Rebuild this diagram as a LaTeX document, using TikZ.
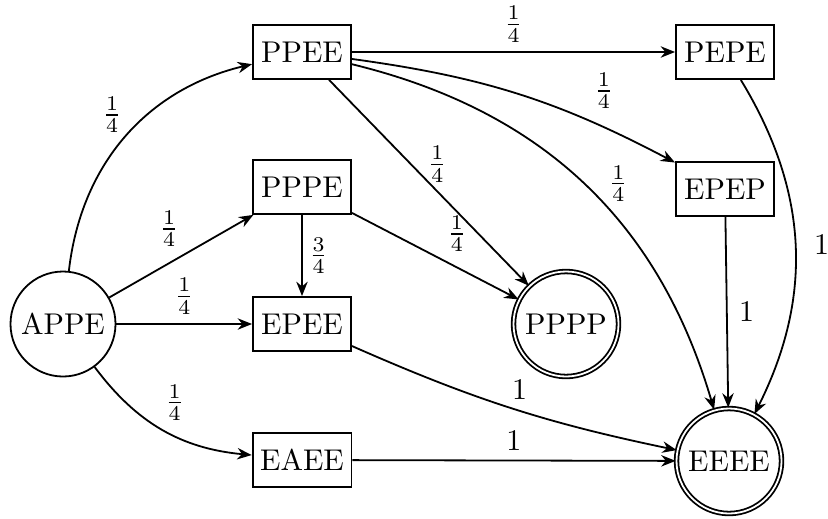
\documentclass[tikz,border=0pt]{standalone}
\usetikzlibrary{arrows.meta}
\begin{document}
\begin{tikzpicture}[x=0.33333pt,y=-0.33333pt,
  >={Stealth[length=4.8pt,width=3.8pt]},
  semithick,
  statebox/.style={draw, rectangle, minimum width=32.7pt, minimum height=18pt, inner xsep=2.5pt},
  statecirc/.style={draw, circle, minimum size=35pt, inner sep=1pt},
  acccirc/.style={statecirc, double},
  lbl/.style={auto, inner sep=3pt},
  lbld/.style={auto, inner sep=2pt}]
\useasboundingbox (0,0) rectangle (828,518);
\node[statecirc] (APPE) at (63,324) {APPE};
\node[statebox] (PPEE) at (302,52) {PPEE};
\node[statebox] (PPPE) at (302,187) {PPPE};
\node[statebox] (EPEE) at (302,324) {EPEE};
\node[statebox] (EAEE) at (302,460) {EAEE};
\node[statebox] (PEPE) at (725,52) {PEPE};
\node[statebox] (EPEP) at (725,189) {EPEP};
\node[acccirc] (PPPP) at (566,324) {PPPP};
\node[acccirc] (EEEE) at (729,461) {EEEE};

\draw[->] (APPE) to[bend left=35] node[auto, inner sep=1pt, pos=0.5] {$\frac{1}{4}$} (PPEE);
\draw[->] (APPE) -- node[lbld, pos=0.53] {$\frac{1}{4}$} (PPPE);
\draw[->] (APPE) -- node[lbl] {$\frac{1}{4}$} (EPEE);
\draw[->] (APPE) to[bend right=24] node[lbld, pos=0.47] {$\frac{1}{4}$} (EAEE);
\draw[->] (PPPE) -- node[lbld] {$\frac{3}{4}$} (EPEE);
\draw[->] (PPPE) -- node[lbld, pos=0.53] {$\frac{1}{4}$} (PPPP);
\draw[->] (PPEE) -- node[pos=0.41, right=2pt] {$\frac{1}{4}$} (PPPP);
\draw[->] (PPEE) -- node[lbl] {$\frac{1}{4}$} (PEPE);
\draw[->] (PPEE) to[bend left=10] node[lbl, pos=0.72] {$\frac{1}{4}$} (EPEP);
\draw[->] (PPEE) to[bend left=30] node[pos=0.5, right=5pt, inner sep=3pt] {$\frac{1}{4}$} (EEEE);
\draw[->] (PEPE) to[bend left=29] node[lbl, xshift=3pt] {$1$} (EEEE);
\draw[->] (EPEP) -- node[auto, inner sep=3.8pt] {$1$} (EEEE);
\draw[->] (EPEE) to[bend right=6] node[lbld, pos=0.48] {$1$} (EEEE);
\draw[->] (EAEE) -- node[lbl] {$1$} (EEEE);
\end{tikzpicture}
\end{document}
